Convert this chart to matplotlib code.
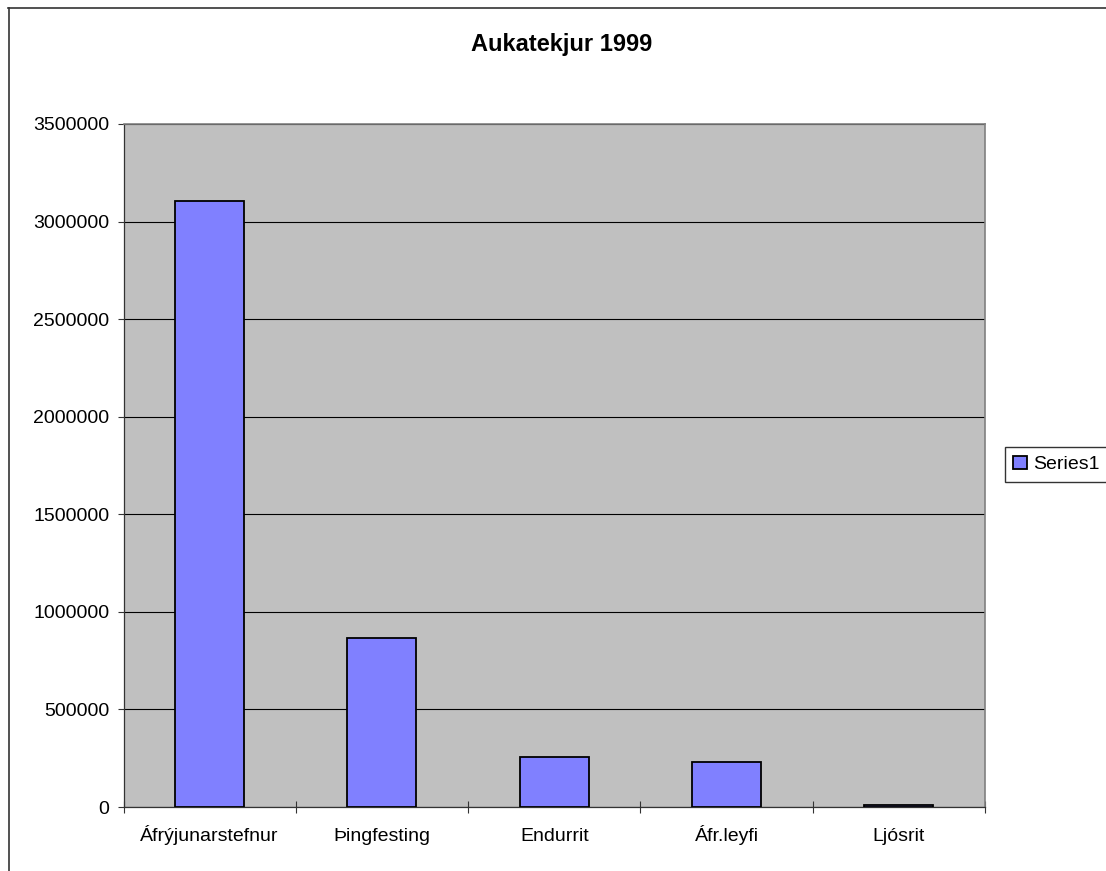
"""Aukatekjur 1999 - Excel style column chart."""

import numpy as np
import matplotlib

matplotlib.use("Agg")
import matplotlib.pyplot as plt
from matplotlib.lines import Line2D

plt.rcParams["font.family"] = ["Liberation Sans", "DejaVu Sans"]

W_PX, H_PX = 1106, 871
DPI = 100

TITLE = "Aukatekjur 1999"
CATEGORIES = ["Áfrýjunarstefnur", "Þingfesting", "Endurrit", "Áfr.leyfi", "Ljósrit"]
VALUES = [3107000, 867000, 258000, 231000, 12000]
SERIES_NAME = "Series1"
Y_TICKS = [0, 500000, 1000000, 1500000, 2000000, 2500000, 3000000, 3500000]

BAR_COLOR = "#8080FF"
PLOT_BG = "#C0C0C0"
FONT_SIZE = 14


def fx(px):
    return px / W_PX


def fy(py):
    return 1 - py / H_PX


fig = plt.figure(figsize=(W_PX / DPI, H_PX / DPI), dpi=DPI)
fig.patch.set_facecolor("white")

# outer chart border (right and bottom fall outside the picture)
fig.add_artist(Line2D([fx(8), 1.0], [fy(8.5), fy(8.5)], color="#333333", lw=1.2,
                      transform=fig.transFigure))
fig.add_artist(Line2D([fx(8.5), fx(8.5)], [fy(8.5), 0.0], color="#333333", lw=1.2,
                      transform=fig.transFigure))

left, right, top, bottom = 123.5, 985, 124, 807
ax = fig.add_axes([fx(left), fy(bottom), fx(right) - fx(left), fy(top) - fy(bottom)])
ax.set_facecolor(PLOT_BG)

x = np.arange(len(CATEGORIES))
ax.bar(x, VALUES, width=0.4, color=BAR_COLOR, edgecolor="black", linewidth=1.3,
       zorder=3, label=SERIES_NAME)

ax.set_xlim(-0.5, len(CATEGORIES) - 0.5)
ax.set_ylim(0, Y_TICKS[-1])
ax.set_yticks(Y_TICKS)
ax.set_yticklabels([str(v) for v in Y_TICKS], fontsize=FONT_SIZE)
ax.yaxis.grid(True, color="black", lw=0.8, zorder=1)
ax.set_axisbelow(True)

ax.set_xticks(x)
ax.set_xticklabels(CATEGORIES, fontsize=FONT_SIZE)
for lab in ax.get_xticklabels():
    lab.set_verticalalignment("baseline")
ax.set_xticks(np.arange(-0.5, len(CATEGORIES)), minor=True)
ax.tick_params(axis="x", which="major", length=0, pad=24.5)
ax.tick_params(axis="x", which="minor", direction="inout", length=8.5, width=0.8,
               color="#333333")
ax.tick_params(axis="y", direction="out", length=4.3, width=0.8, pad=6,
               color="#333333")

for side in ("top", "right"):
    ax.spines[side].set_color("#808080")
    ax.spines[side].set_linewidth(1.2)
for side in ("left", "bottom"):
    ax.spines[side].set_color("#333333")
    ax.spines[side].set_linewidth(0.9)

fig.text(fx(562), fy(45), TITLE, ha="center", va="center", fontsize=17,
         fontweight="bold")

leg = fig.legend(
    loc="center left",
    bbox_to_anchor=(fx(1005), fy(464.5)),
    fontsize=FONT_SIZE,
    frameon=True,
    fancybox=False,
    framealpha=1,
    edgecolor="#333333",
    handlelength=0.72,
    handleheight=0.72,
    handletextpad=0.32,
    borderpad=0.42,
    borderaxespad=0,
)
leg.get_frame().set_linewidth(1.0)

fig.savefig("out.png", dpi=DPI, facecolor="white")
